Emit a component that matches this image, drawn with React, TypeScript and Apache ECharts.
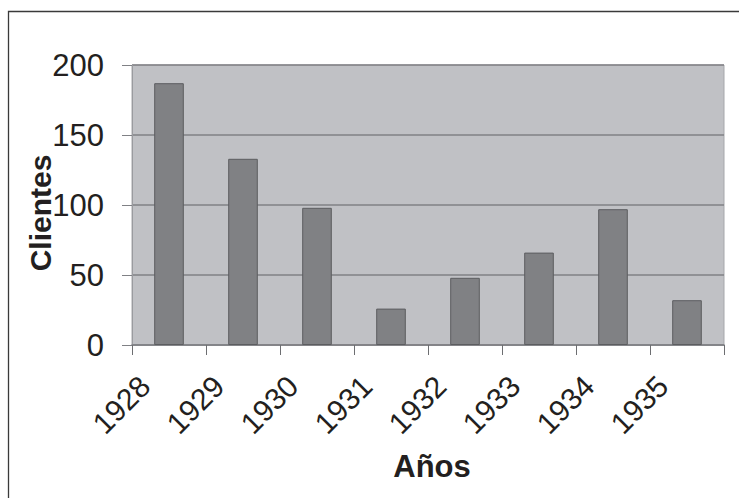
import React, { useEffect, useRef } from "react";
import * as echarts from "echarts";

// Clientes por año
const years: string[] = ["1928", "1929", "1930", "1931", "1932", "1933", "1934", "1935"];
const clientes: number[] = [187, 133, 98, 26, 48, 66, 97, 32];
const yTicks = { min: 0, max: 200, interval: 50 };

const FONT = "'Liberation Sans', Arial, Helvetica, sans-serif";
const TEXT = "#231f20";

export default function App() {
  const ref = useRef<HTMLDivElement>(null);

  useEffect(() => {
    if (!ref.current) return;
    const chart = echarts.init(ref.current, undefined, { renderer: "svg" });
    chart.setOption({
      animation: false,
      backgroundColor: "#ffffff",
      textStyle: { fontFamily: FONT },
      grid: {
        left: 132,
        right: 15,
        top: 65,
        bottom: 153,
        show: true,
        backgroundColor: "#c0c1c5",
        borderColor: "#a6a7ab",
        borderWidth: 1,
      },
      xAxis: {
        type: "category",
        data: years,
        boundaryGap: true,
        name: "Años",
        nameLocation: "middle",
        nameGap: 106,
        nameMoveOverlap: false,
        nameTextStyle: { fontSize: 31, fontWeight: "bold", color: TEXT, fontFamily: FONT, padding: [0, 0, 0, 8] },
        axisLine: { show: true, lineStyle: { color: "#808185", width: 1.5 } },
        axisTick: { show: true, length: 10, alignWithLabel: false, lineStyle: { color: "#6d6e71", width: 1 } },
        axisLabel: {
          rotate: 45,
          interval: 0,
          margin: 12,
          fontSize: 30,
          color: TEXT,
          fontFamily: FONT,
          padding: [0, 34, 0, 0],
        },
        splitLine: { show: false },
      },
      yAxis: {
        type: "value",
        min: yTicks.min,
        max: yTicks.max,
        interval: yTicks.interval,
        name: "Clientes",
        nameLocation: "middle",
        nameGap: 77,
        nameMoveOverlap: false,
        nameRotate: 90,
        nameTextStyle: { fontSize: 30, fontWeight: "bold", color: TEXT, fontFamily: FONT, padding: [0, 16, 0, 0] },
        axisLine: { show: true, lineStyle: { color: "#9a9b9f", width: 1 } },
        axisTick: { show: true, length: 10, lineStyle: { color: "#808185", width: 1 } },
        axisLabel: { margin: 28, fontSize: 31, color: TEXT, fontFamily: FONT },
        splitLine: { show: true, lineStyle: { color: "#808185", width: 1.5 } },
      },
      series: [
        {
          type: "bar",
          data: clientes,
          barWidth: "40%",
          itemStyle: { color: "#808184", borderColor: "#5c5d60", borderWidth: 1 },
        },
      ],
      graphic: [
        {
          type: "polyline",
          shape: { points: [[8.5, 498], [8.5, 11.5], [739, 11.5]] },
          style: { stroke: "#3a3a3a", lineWidth: 1.3, fill: "none" },
          silent: true,
        },
      ],
    });
    return () => chart.dispose();
  }, []);

  return (
    <div
      ref={ref}
      style={{ position: "absolute", left: 0, top: 0, width: 739, height: 498 }}
    />
  );
}
